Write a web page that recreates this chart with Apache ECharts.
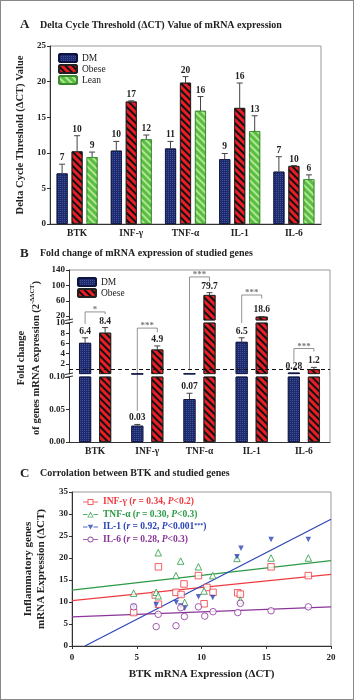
<!DOCTYPE html>
<html>
<head>
<meta charset="utf-8">
<script src="https://cdn.jsdelivr.net/npm/echarts@6/dist/echarts.min.js"></script>
<style>
html, body { margin: 0; padding: 0; background: #fff; }
#wrap { position: relative; width: 354px; height: 700px; }
#chart { width: 354px; height: 700px; }
#frame { position: absolute; left: 0; top: 0; width: 354px; height: 700px; box-sizing: border-box; border: 1px solid #888; pointer-events: none; }
</style>
</head>
<body>
<div id="wrap"><div id="chart"></div><div id="frame"></div></div>
<script>
/**
 * 数据
 * */
var genes = ['BTK', 'INF-γ', 'TNF-α', 'IL-1', 'IL-6'];

// A  ΔCT
var dmCt = [7.1, 10.3, 10.6, 9.1, 7.35];
var obeseCt = [10.2, 17.2, 19.85, 16.3, 8.15];
var leanCt = [9.4, 11.9, 15.9, 13.05, 6.3];
var dmCtErr = [8.4, 11.6, 11.6, 9.9, 9.45];
var obeseCtErr = [12.4, 17.3, 20.7, 19.8, 8.2];
var leanCtErr = [10.1, 12.5, 17.9, 15.2, 6.9];
var dmCtLbl = ['7', '10', '11', '9', '7'];
var obeseCtLbl = ['10', '17', '20', '16', '10'];
var leanCtLbl = ['9', '12', '16', '13', '6'];

// B  fold change
var dmFold = [6.1, 0.025, 0.066, 6.3, 0.28];
var obeseFold = [8.1, 4.8, 75, 18.6, 0.95];
var dmFoldErr = [7.1, 0.027, 0.075, 7.1, null];
var obeseFoldErr = [9.1, 5.5, 81, 19.0, 1.3];
var dmFoldLbl = ['6.4', '0.03', '0.07', '6.5', '0.28'];
var obeseFoldLbl = ['8.4', '4.9', '79.7', '18.6', '1.2'];
// significance brackets (left leg end, top, right leg end)
var brkLeft = [9.8, 0.048, 0.8, 10, 2.4];
var brkTop = [31, 9.0, 122, 75, 5.0];
var brkRight = [25, 8.2, 110, 66, 4.4];
var brkMark = ['*', '***', '***', '***', '***'];

// C  correlation
var infPts = [[4.76, 7.6], [6.43, 11.6], [6.67, 18.0], [6.67, 9.5], [8.03, 12.2], [8.42, 11.7], [8.65, 14.1], [9.76, 16.0], [10.2, 9.6], [10.42, 13.3], [10.89, 12.2], [12.8, 12.1], [13.0, 11.8], [15.37, 18.0], [18.25, 16.0]];
var tnfPts = [[4.76, 12.0], [6.5, 12.2], [6.66, 11.4], [6.66, 21.2], [8.03, 16.0], [8.39, 19.3], [8.7, 9.9], [9.76, 18.0], [10.2, 12.5], [10.87, 16.0], [12.74, 19.9], [13.0, 10.4], [15.37, 20.0], [18.25, 20.0]];
var il1Pts = [[4.76, 9.0], [6.5, 9.4], [8.05, 9.9], [8.4, 9.1], [8.7, 8.6], [9.77, 11.2], [10.87, 11.0], [12.74, 20.3], [13.05, 22.2], [15.37, 24.2], [18.25, 24.2]];
var il6Pts = [[4.76, 8.9], [6.5, 4.4], [6.66, 7.2], [8.03, 4.6], [8.4, 8.7], [8.68, 6.7], [9.76, 8.9], [10.25, 6.8], [10.89, 7.8], [12.8, 7.6], [13.0, 9.7], [15.37, 8.0], [18.25, 8.9]];
var infFit = [[0, 10.3], [20, 16.3]];
var tnfFit = [[0, 12.7], [20, 19.4]];
var il1Fit = [[1.0, 0], [20, 28.8]];
var il6Fit = [[0, 6.6], [20, 8.9]];
var corrR = ['0.34', '0.30', '0.92', '0.28'];
var corrP = ['0.2', '0.3', '0.001', '0.3'];

/**
 * 样式 / 布局
 * */
var SERIF = '"Liberation Serif", "DejaVu Serif", serif';
var L = {
	bLeft: 69, bRight: 24, bTop: 270, bBottom: 442,
	gTop: { top: 270, height: 50 },
	gMid: { top: 323, height: 51 },
	gBot: { top: 377, height: 65 }
};
var sty = {
	DM: { color: '#1d2b6e', borderColor: '#0c1440', borderWidth: 0.8,
		decal: { symbol: 'rect', symbolSize: 1, dashArrayX: [1, 1], dashArrayY: [1, 1], color: 'rgba(110,130,210,0.45)' } },
	Obese: { color: '#ea1c24', borderColor: '#222', borderWidth: 0.8,
		decal: { symbol: 'rect', symbolSize: 1, dashArrayX: [1, 0], dashArrayY: [1.5, 3], rotation: Math.PI / 4, color: '#111' } },
	Lean: { color: '#5cbd45', borderColor: '#3a8a2e', borderWidth: 0.8,
		decal: { symbol: 'rect', symbolSize: 1, dashArrayX: [1, 0], dashArrayY: [1.5, 3], rotation: Math.PI / 4, color: 'rgba(200,245,170,0.75)' } }
};
var cCol = ['#ee3b40', '#2b9a45', '#2a45b5', '#8a3598'];
var bOffs = [-10, 10];
var aOffs = [-15, 0, 15];

function segGrid(v) {
	return v > 10 ? 1 : (v >= 0.1 ? 2 : 3);
}

function bar(name, data, gi, w, gap, extra) {
	return Object.assign({
		name: name, type: 'bar', xAxisIndex: gi, yAxisIndex: gi, data: data,
		barWidth: w, barGap: gap, itemStyle: sty[name], emphasis: { disabled: true }, silent: true
	}, extra || {});
}

function errSeries(gi, groups, offs, seg) {
	var data = [], labels = [];
	groups.forEach(function(g, k) {
		g.vals.forEach(function(v, i) {
			var t = g.tops[i] == null ? v : g.tops[i];
			if (seg != null && segGrid(t) !== seg) return;
			data.push([i, v, t, k]);
			labels.push(g.lbls[i]);
		});
	});
	return {
		type: 'custom', xAxisIndex: gi, yAxisIndex: gi, data: data, silent: true, z: 5,
		renderItem: function(params, api) {
			var i = api.value(0), v = api.value(1), t = api.value(2), k = api.value(3);
			var p0 = api.coord([i, v]), p1 = api.coord([i, t]);
			var x = p0[0] + offs[k];
			var ch = [];
			if (t > v) {
				ch.push({ type: 'line', shape: { x1: x, y1: p0[1], x2: x, y2: p1[1] }, style: { stroke: '#444', lineWidth: 1 } });
				ch.push({ type: 'line', shape: { x1: x - 3, y1: p1[1], x2: x + 3, y2: p1[1] }, style: { stroke: '#444', lineWidth: 1 } });
			}
			ch.push({ type: 'text', x: x, y: p1[1] - 1.5, style: { text: labels[params.dataIndex], fill: '#222',
				font: 'bold 9.5px ' + SERIF, align: 'center', verticalAlign: 'bottom' } });
			return { type: 'group', children: ch };
		}
	};
}

function catAxis(gi, show) {
	return {
		type: 'category', gridIndex: gi, data: genes, show: show,
		axisLine: { lineStyle: { color: '#333' } },
		axisTick: { alignWithLabel: true, length: 3, lineStyle: { color: '#333' } },
		axisLabel: { color: '#222', fontWeight: 'bold', fontSize: 9.5, fontFamily: SERIF, margin: 5 }
	};
}

function valAxis(gi, min, max, vals, fmt) {
	return {
		type: 'value', gridIndex: gi, min: min, max: max,
		axisLine: { show: true, lineStyle: { color: '#333' } },
		axisTick: { show: true, length: 3, customValues: vals, lineStyle: { color: '#333' } },
		axisLabel: { color: '#222', fontWeight: 'bold', fontSize: 9, fontFamily: SERIF, margin: 4, customValues: vals, formatter: fmt },
		splitLine: { show: false }
	};
}

// legend icons (line + marker)
var LN = 'M0 5 L9 5 L9 7 L0 7 Z M21 5 L30 5 L30 7 L21 7 Z ';
var icons = [
	'path://' + LN + 'M9 0 L21 0 L21 12 L9 12 Z M11 2 L11 10 L19 10 L19 2 Z',
	'path://' + LN + 'M15 0 L21.5 12 L8.5 12 Z M15 3.8 L10.8 10.4 L19.2 10.4 Z',
	'path://' + LN + 'M15 0 L15 0 Z M15 12 L15 12 Z M9.5 1.5 L20.5 1.5 L15 11 Z',
	'path://' + LN + 'M9 6 A6 6 0 1 1 21 6 A6 6 0 1 1 9 6 Z M10.8 6 A4.2 4.2 0 1 0 19.2 6 A4.2 4.2 0 1 0 10.8 6 Z'
];
var cNames = ['INF-γ', 'TNF-α', 'IL-1', 'IL-6'];
var cRich = {};
cCol.forEach(function(c, k) {
	cRich['b' + k] = { color: c, fontWeight: 'bold', fontSize: 9.5, fontFamily: SERIF };
	cRich['i' + k] = { color: c, fontWeight: 'bold', fontStyle: 'italic', fontSize: 9.5, fontFamily: SERIF };
	cRich['s' + k] = { color: c, fontWeight: 'bold', fontSize: 6, fontFamily: SERIF, verticalAlign: 'top' };
});

var titleStyle = { fontSize: 10, fontWeight: 'bold', fontFamily: SERIF, color: '#222' };
var letterStyle = { fontSize: 13, fontWeight: 'bold', fontFamily: SERIF, color: '#222' };

/**
 * option
 * */
var option = {
	animation: false,
	textStyle: { fontFamily: SERIF, color: '#222' },
	title: [
		{ text: 'A', left: 20, top: 18, padding: 0, textStyle: letterStyle },
		{ text: 'Delta Cycle Threshold (ΔCT) Value of mRNA expression', left: 40, top: 20, padding: 0, textStyle: titleStyle },
		{ text: 'B', left: 20, top: 247, padding: 0, textStyle: letterStyle },
		{ text: 'Fold change of mRNA expression of studied genes', left: 40, top: 248, padding: 0, textStyle: titleStyle },
		{ text: 'C', left: 20, top: 467, padding: 0, textStyle: letterStyle },
		{ text: 'Corrolation between BTK and studied genes', left: 40, top: 468, padding: 0, textStyle: titleStyle }
	],
	legend: [{
		orient: 'vertical', left: 58, top: 53, padding: 0, itemWidth: 18, itemHeight: 8, itemGap: 1, selectedMode: false,
		data: ['DM', 'Obese', 'Lean'], textStyle: { fontSize: 9.5, fontFamily: SERIF, color: '#222' }
	}, {
		orient: 'vertical', left: 77, top: 277, padding: 0, itemWidth: 18, itemHeight: 8, itemGap: 1, selectedMode: false,
		data: ['DM', 'Obese'], textStyle: { fontSize: 9.5, fontFamily: SERIF, color: '#222' }
	}, {
		orient: 'vertical', left: 83, top: 497, padding: 0, itemWidth: 15, itemHeight: 6, itemGap: 2.5, selectedMode: false,
		data: cNames.map(function(n, k) {
			return { name: n, icon: icons[k], itemStyle: { color: cCol[k], borderWidth: 0 } };
		}),
		textStyle: { rich: cRich },
		formatter: function(name) {
			var k = cNames.indexOf(name);
			var s = '{b' + k + '|' + name + ' (}{i' + k + '|r}{b' + k + '| = ' + corrR[k] + ', }{i' + k + '|P}{b' + k + '|<' + corrP[k] + '}';
			if (k === 2) s += '{s' + k + '|***}';
			return s + '{b' + k + '|)}';
		}
	}],
	grid: [
		{ left: 50, right: 33, top: 46, height: 178, show: true, borderColor: '#999', borderWidth: 1 },
		{ left: L.bLeft, right: L.bRight, top: L.gTop.top, height: L.gTop.height },
		{ left: L.bLeft, right: L.bRight, top: L.gMid.top, height: L.gMid.height },
		{ left: L.bLeft, right: L.bRight, top: L.gBot.top, height: L.gBot.height },
		{ left: 72, right: 23, top: 492, height: 154, show: true, borderColor: '#999', borderWidth: 1 }
	],
	xAxis: [
		catAxis(0, true),
		catAxis(1, false),
		catAxis(2, false),
		catAxis(3, true),
		{
			type: 'value', gridIndex: 4, min: 0, max: 20, interval: 5,
			name: 'BTK mRNA Expression (ΔCT)', nameLocation: 'middle', nameGap: 23,
			nameTextStyle: { fontWeight: 'bold', fontSize: 11, fontFamily: SERIF, color: '#222' },
			axisLine: { lineStyle: { color: '#333' } },
			axisTick: { length: 3, lineStyle: { color: '#333' } },
			axisLabel: { color: '#222', fontWeight: 'bold', fontSize: 9, fontFamily: SERIF, margin: 7 },
			splitLine: { show: false }
		}
	],
	yAxis: [
		Object.assign(valAxis(0, 0, 25, [0, 5, 10, 15, 20, 25]), {
			name: 'Delta Cycle Threshold (ΔCT) Value', nameLocation: 'middle', nameGap: 17,
			nameTextStyle: { fontWeight: 'bold', fontSize: 10.5, fontFamily: SERIF, color: '#222' }
		}),
		valAxis(1, 10, 140, [20, 60, 100, 140]),
		valAxis(2, 0, 10, [2, 4, 6, 8, 10]),
		valAxis(3, 0, 0.1, [0, 0.05, 0.1], function(v) { return v.toFixed(2); }),
		Object.assign(valAxis(4, 0, 35, [0, 5, 10, 15, 20, 25, 30, 35]), {
			name: 'Inflammatory genes\nmRNA Expression (ΔCT)', nameLocation: 'middle', nameGap: 19,
			nameTextStyle: { fontWeight: 'bold', fontSize: 11, fontFamily: SERIF, color: '#222', lineHeight: 13 }
		})
	],
	series: []
};

var S = option.series;
// A
S.push(bar('DM', dmCt, 0, 11, '36%'), bar('Obese', obeseCt, 0, 11, '36%'), bar('Lean', leanCt, 0, 11, '36%'));
S.push(errSeries(0, [
	{ vals: dmCt, tops: dmCtErr, lbls: dmCtLbl },
	{ vals: obeseCt, tops: obeseCtErr, lbls: obeseCtLbl },
	{ vals: leanCt, tops: leanCtErr, lbls: leanCtLbl }
], aOffs, null));
// B (三段断轴)
[1, 2, 3].forEach(function(g) {
	var extra = g === 2 ? {
		markLine: {
			silent: true, symbol: ['none', 'none'], label: { show: false },
			lineStyle: { type: [4, 3], color: '#111', width: 1 },
			data: [{ yAxis: 1 }]
		}
	} : {};
	S.push(bar('DM', dmFold, g, 12, '67%', extra), bar('Obese', obeseFold, g, 12, '67%'));
	S.push(errSeries(g, [
		{ vals: dmFold, tops: dmFoldErr, lbls: dmFoldLbl },
		{ vals: obeseFold, tops: obeseFoldErr, lbls: obeseFoldLbl }
	], bOffs, g));
});
// C
var cPts = [infPts, tnfPts, il1Pts, il6Pts];
var cFit = [infFit, tnfFit, il1Fit, il6Fit];
var cSym = ['rect', 'triangle', 'triangle', 'circle'];
cNames.forEach(function(n, k) {
	S.push({
		name: n + ' fit', type: 'line', xAxisIndex: 4, yAxisIndex: 4, data: cFit[k], showSymbol: false, silent: true,
		lineStyle: { color: cCol[k], width: 1.2 }, z: 2
	});
});
cNames.forEach(function(n, k) {
	S.push({
		name: n, type: 'scatter', xAxisIndex: 4, yAxisIndex: 4, data: cPts[k], silent: true, z: 3,
		symbol: cSym[k], symbolRotate: k === 2 ? 180 : 0, symbolSize: k === 2 ? 5.5 : 6.5,
		itemStyle: k === 2 ? { color: cCol[k] } : { color: '#fff', borderColor: cCol[k], borderWidth: 1 }
	});
});

var myChart = echarts.init(document.getElementById('chart'));
myChart.setOption(option);

/**
 * 断轴标记 / 显著性括号
 * */
var gr = [];
var grey = '#777';
// B frame (top + right)
gr.push({ type: 'polyline', shape: { points: [[L.bLeft, L.bTop], [354 - L.bRight, L.bTop], [354 - L.bRight, L.bBottom]] },
	style: { stroke: '#999', lineWidth: 1, fill: null }, silent: true });
// axis breaks
[(L.gTop.top + L.gTop.height + L.gMid.top) / 2, (L.gMid.top + L.gMid.height + L.gBot.top) / 2].forEach(function(yc) {
	gr.push({ type: 'line', shape: { x1: L.bLeft - 4, y1: yc - 1, x2: L.bLeft + 4, y2: yc - 2.5 }, style: { stroke: '#333', lineWidth: 1 }, silent: true });
	gr.push({ type: 'line', shape: { x1: L.bLeft - 4, y1: yc + 2, x2: L.bLeft + 4, y2: yc + 0.5 }, style: { stroke: '#333', lineWidth: 1 }, silent: true });
});
// B y axis name
gr.push({
	type: 'text', x: 29, y: (L.bTop + L.bBottom) / 2 + 2, rotation: Math.PI / 2, silent: true,
	style: {
		text: '{m|Fold change}\n{m|of genes mRNA expression (2}{s|-ΔΔCT}{m|)}',
		align: 'center', verticalAlign: 'middle',
		rich: {
			m: { fontWeight: 'bold', fontSize: 10.5, fontFamily: SERIF, fill: '#222', color: '#222', lineHeight: 15 },
			s: { fontWeight: 'bold', fontSize: 6.5, fontFamily: SERIF, fill: '#222', color: '#222', verticalAlign: 'top', lineHeight: 15 }
		}
	}
});
function py(i, v) {
	return myChart.convertToPixel({ gridIndex: segGrid(v) }, [i, v])[1];
}
brkTop.forEach(function(top, i) {
	var cx = myChart.convertToPixel({ gridIndex: 3 }, [i, 0])[0];
	var xl = cx + bOffs[0], xr = cx + bOffs[1];
	var yt = py(i, top);
	gr.push({ type: 'polyline', silent: true, shape: { points: [[xl, py(i, brkLeft[i])], [xl, yt], [xr, yt], [xr, py(i, brkRight[i])]] },
		style: { stroke: grey, lineWidth: 0.8, fill: null } });
	gr.push({ type: 'text', x: (xl + xr) / 2, y: yt - 2, silent: true,
		style: { text: brkMark[i], fill: grey, font: 'bold 9px ' + SERIF, align: 'center', verticalAlign: 'middle' } });
});
myChart.setOption({ graphic: gr });
</script>
</body>
</html>
